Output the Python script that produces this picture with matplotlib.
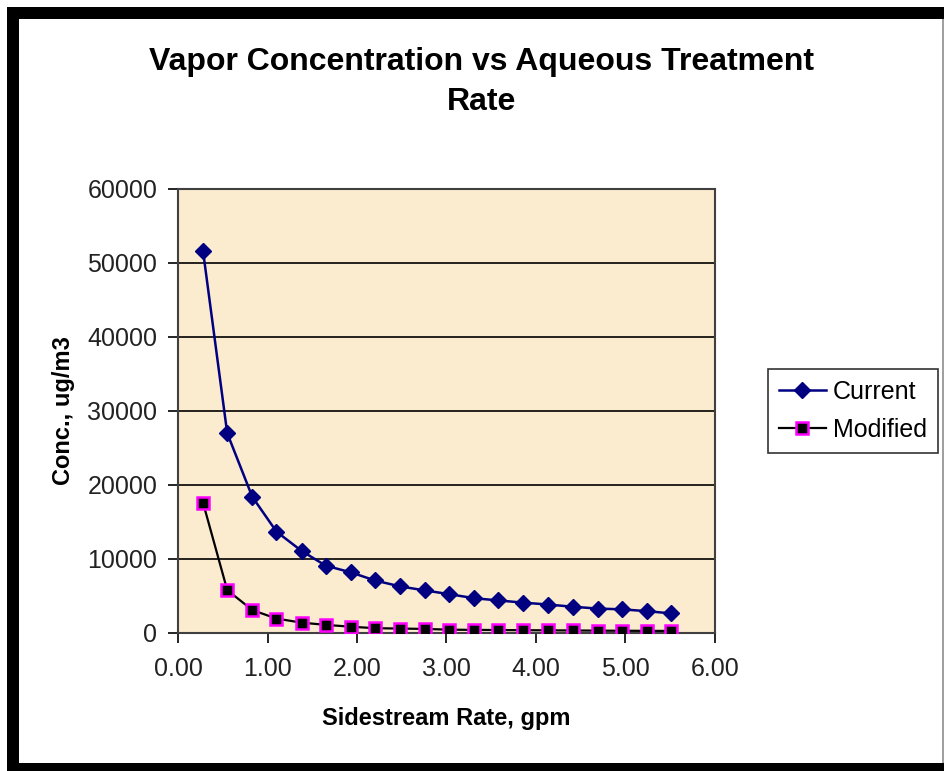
import matplotlib
matplotlib.use('Agg')
import matplotlib.pyplot as plt
from matplotlib.patches import Rectangle

plt.rcParams['font.family'] = ['Liberation Sans', 'DejaVu Sans']

# 数据
rate_gpm = [0.28, 0.55, 0.83, 1.10, 1.38, 1.65, 1.93, 2.20, 2.48, 2.76,
            3.03, 3.31, 3.58, 3.86, 4.13, 4.41, 4.69, 4.96, 5.24, 5.51]
current = [51600, 27000, 18400, 13700, 11100, 9100, 8200, 7100, 6300, 5750,
           5250, 4700, 4400, 4100, 3850, 3550, 3300, 3200, 2950, 2650]
modified = [17600, 5800, 3100, 1950, 1400, 1100, 850, 650, 600, 550,
            450, 420, 400, 380, 360, 340, 320, 300, 290, 280]
x_ticks = [0, 1, 2, 3, 4, 5, 6]
y_ticks = [0, 10000, 20000, 30000, 40000, 50000, 60000]

W, H = 944, 771
fig = plt.figure(figsize=(W / 100, H / 100), dpi=100)
fig.patch.set_facecolor('white')

# 外框（左、上、下的黑色粗边）
fig.patches.append(Rectangle((7 / W, 0), 12 / W, 1 - 7 / H, transform=fig.transFigure,
                             facecolor='black', edgecolor='none'))
fig.patches.append(Rectangle((7 / W, 1 - 19 / H), 1 - 7 / W, 12 / H, transform=fig.transFigure,
                             facecolor='black', edgecolor='none'))
fig.patches.append(Rectangle((7 / W, 0), 1 - 7 / W, 8 / H, transform=fig.transFigure,
                             facecolor='black', edgecolor='none'))
fig.patches.append(Rectangle((942 / W, 8 / H), 2 / W, 1 - 27 / H, transform=fig.transFigure,
                             facecolor='#a0a0a0', edgecolor='none'))

ax = fig.add_axes([178 / W, (H - 633) / H, (715 - 178) / W, (633 - 189) / H])
ax.set_facecolor('#fbebcf')

# 网格线
for yv in y_ticks[1:]:
    ax.axhline(yv, color='black', linewidth=1.2, zorder=1)

ax.plot(rate_gpm, current, color='#000080', linewidth=1.8, marker='D', markersize=8,
        markerfacecolor='#000080', markeredgecolor='#000080', label='Current', zorder=3)
ax.plot(rate_gpm, modified, color='black', linewidth=1.6, marker='s', markersize=8,
        markerfacecolor='black', markeredgecolor='#ff00ff', markeredgewidth=1.8,
        label='Modified', zorder=3)

ax.set_xlim(0, 6)
ax.set_ylim(0, 60000)
ax.set_xticks(x_ticks)
ax.set_xticklabels([f'{v:.2f}' for v in x_ticks])
ax.set_yticks(y_ticks)
ax.set_yticklabels([str(v) for v in y_ticks])
ax.tick_params(axis='both', direction='out', length=7, width=1.2, colors='black',
               labelsize=18, labelcolor='#222222')
ax.tick_params(axis='x', pad=10)
ax.tick_params(axis='y', pad=8)
for s in ax.spines.values():
    s.set_color('#404040')
    s.set_linewidth(1.5)

ax.set_xlabel('Sidestream Rate, gpm', fontsize=17, fontweight='bold', labelpad=19)
ax.set_ylabel('Conc., ug/m3', fontsize=17, fontweight='bold', labelpad=9)

fig.text(0.51, 1 - 82 / H, 'Vapor Concentration vs Aqueous Treatment\nRate',
         ha='center', va='center', fontsize=23, fontweight='bold', linespacing=1.45)

leg = ax.legend(loc='center left', bbox_to_anchor=(768 / W, (H - 411) / H),
                bbox_transform=fig.transFigure, fontsize=18, frameon=True,
                fancybox=False, edgecolor='black', handlelength=1.85,
                borderpad=0.45, labelspacing=0.55, handletextpad=0.3, borderaxespad=0)
leg.get_frame().set_linewidth(1.2)

plt.savefig('out.png', dpi=100)
